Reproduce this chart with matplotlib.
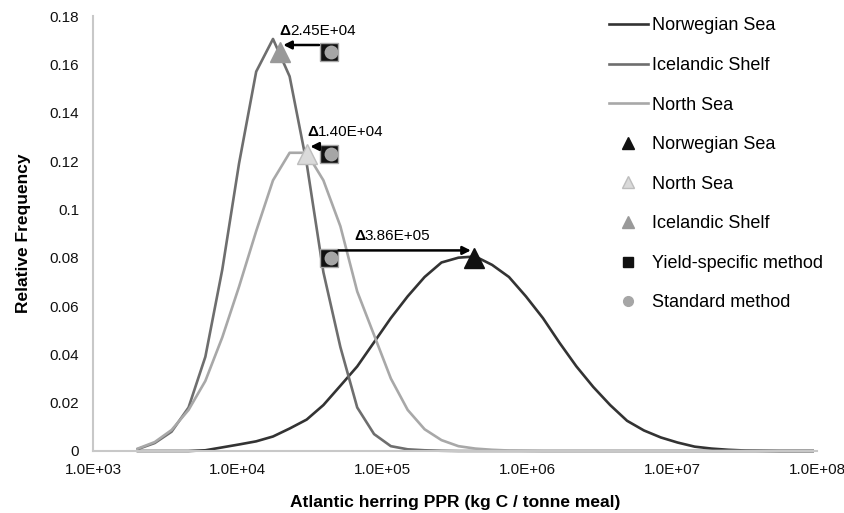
import matplotlib
matplotlib.use('Agg')
import matplotlib.pyplot as plt
from matplotlib.lines import Line2D
from matplotlib.ticker import FixedLocator, FuncFormatter, NullLocator

plt.rcParams['font.family'] = ['Liberation Sans', 'DejaVu Sans']

# Bins de PPR (kg C / tonne meal)
ppr = [2040, 2670, 3490, 4570, 5970, 7810, 10200, 13400, 17500, 22800,
       29900, 39000, 51100, 66800, 87300, 114000, 149000, 195000, 255000, 334000,
       437000, 571000, 746000, 976000, 1280000, 1670000, 2180000, 2850000, 3730000, 4880000,
       6380000, 8350000, 10900000, 14300000, 18700000, 24400000, 31900000, 41700000, 54600000, 71400000,
       93300000]

# Frecuencias relativas por region
norwegian = [0, 0, 0, 0, 0.0003, 0.0015, 0.0027, 0.004, 0.006, 0.0093,
             0.013, 0.019, 0.027, 0.035, 0.045, 0.055, 0.064, 0.072, 0.078, 0.080,
             0.0805, 0.077, 0.072, 0.064, 0.055, 0.0447, 0.035, 0.0265, 0.019, 0.0125,
             0.0085, 0.0056, 0.0035, 0.0018, 0.001, 0.0005, 0.0002, 0.0001, 0, 0,
             0]
icelandic = [0.0008, 0.0033, 0.008, 0.018, 0.039, 0.075, 0.119, 0.157, 0.1705, 0.155,
             0.119, 0.074, 0.043, 0.018, 0.007, 0.002, 0.0007, 0.0003, 0.0001, 0,
             0, 0, 0, 0, 0, 0, 0, 0, 0, 0,
             0, 0, 0, 0, 0, 0, 0, 0, 0, 0,
             0]
north_sea = [0.001, 0.0037, 0.0087, 0.017, 0.029, 0.047, 0.068, 0.091, 0.112, 0.1234,
             0.1234, 0.112, 0.093, 0.066, 0.048, 0.030, 0.017, 0.009, 0.0045, 0.002,
             0.001, 0.0005, 0.0002, 0.0001, 0, 0, 0, 0, 0, 0,
             0, 0, 0, 0, 0, 0, 0, 0, 0, 0,
             0]

# Puntos: metodo especifico por rendimiento vs estandar
regions = ['Norwegian Sea', 'North Sea', 'Icelandic Shelf']
yield_ppr = [430000, 30000, 19500]
point_freq = [0.080, 0.123, 0.165]
tri_colors = ['#111111', '#dadada', '#999999']
tri_edges = ['#111111', '#bdbdbd', '#999999']
square_ppr = 42500
std_ppr = 44000
deltas = ['3.86E+05', '1.40E+04', '2.45E+04']

fig = plt.figure(figsize=(8.45, 5.13), dpi=100)
ax = fig.add_axes([93 / 845, 62 / 513, 724 / 845, 435 / 513])

line_colors = {'Norwegian Sea': '#333333', 'Icelandic Shelf': '#6e6e6e', 'North Sea': '#a8a8a8'}
ax.plot(ppr, norwegian, color=line_colors['Norwegian Sea'], lw=1.9, clip_on=False)
ax.plot(ppr, icelandic, color=line_colors['Icelandic Shelf'], lw=1.9, clip_on=False)
ax.plot(ppr, north_sea, color=line_colors['North Sea'], lw=1.9, clip_on=False)

for i in range(len(regions)):
    ax.plot(yield_ppr[i], point_freq[i], ls='none', marker='^', ms=14,
            mfc=tri_colors[i], mec=tri_edges[i], mew=1, zorder=5)

ax.plot([square_ppr] * 3, point_freq, ls='none', marker='s', ms=13.5,
        mfc='#111111', mec='#a6a6a6', mew=1, zorder=6)
ax.plot([std_ppr] * 3, point_freq, ls='none', marker='o', ms=10,
        mfc='#a6a6a6', mec='#a6a6a6', mew=0, zorder=7)

# Flechas y etiquetas de diferencia
for i in range(len(regions)):
    y_arr = point_freq[i] + 0.003
    ax.annotate('', xy=(yield_ppr[i], y_arr), xytext=(square_ppr, y_arr),
                arrowprops=dict(arrowstyle='-|>', color='black', lw=1.8,
                                mutation_scale=12, shrinkA=7, shrinkB=2.5),
                zorder=8)
    if yield_ppr[i] < std_ppr:
        tx = yield_ppr[i]
    else:
        tx = std_ppr * 1.45
    ty = point_freq[i] + 0.0088
    ax.annotate(u'\u0394', xy=(tx, ty), fontsize=11, fontweight='bold',
                va='center', ha='left', zorder=9)
    ax.annotate(deltas[i], xy=(tx, ty), xytext=(7.6, 0), textcoords='offset points',
                fontsize=11, va='center', ha='left', zorder=9)

ax.set_xscale('log')
ax.set_xlim(1e3, 1e8)
ax.set_ylim(0, 0.18)
ax.xaxis.set_major_locator(FixedLocator([1e3, 1e4, 1e5, 1e6, 1e7, 1e8]))
ax.xaxis.set_minor_locator(NullLocator())
ax.xaxis.set_major_formatter(FuncFormatter(lambda v, p: '%.1E' % v))
ax.yaxis.set_major_locator(FixedLocator([0.02 * k for k in range(10)]))
ax.yaxis.set_major_formatter(FuncFormatter(lambda v, p: '%g' % round(v, 2)))
ax.tick_params(length=0, labelsize=11, labelcolor='#111111')
ax.tick_params(axis='y', pad=10)
ax.tick_params(axis='x', pad=8.5)

for s in ['top', 'right']:
    ax.spines[s].set_visible(False)
for s in ['left', 'bottom']:
    ax.spines[s].set_color('#c8c8c8')
    ax.spines[s].set_linewidth(1.5)

ax.set_xlabel('Atlantic herring PPR (kg C / tonne meal)', fontsize=12.5, fontweight='bold', labelpad=13)
ax.set_ylabel('Relative Frequency', fontsize=12.5, fontweight='bold', labelpad=13.5)

handles = [
    Line2D([], [], color=line_colors['Norwegian Sea'], lw=1.9),
    Line2D([], [], color=line_colors['Icelandic Shelf'], lw=1.9),
    Line2D([], [], color=line_colors['North Sea'], lw=1.9),
    Line2D([], [], ls='none', marker='^', ms=8, mfc=tri_colors[0], mec=tri_edges[0]),
    Line2D([], [], ls='none', marker='^', ms=8, mfc=tri_colors[1], mec=tri_edges[1]),
    Line2D([], [], ls='none', marker='^', ms=8, mfc=tri_colors[2], mec=tri_edges[2]),
    Line2D([], [], ls='none', marker='s', ms=6.5, mfc='#111111', mec='#111111'),
    Line2D([], [], ls='none', marker='o', ms=7, mfc='#a6a6a6', mec='#a6a6a6'),
]
labels = ['Norwegian Sea', 'Icelandic Shelf', 'North Sea', 'Norwegian Sea', 'North Sea',
          'Icelandic Shelf', 'Yield-specific method', 'Standard method']
ax.legend(handles, labels, loc='upper left', bbox_to_anchor=(609 / 845, 1 - 17.5 / 513),
          bbox_transform=fig.transFigure, frameon=False, fontsize=13,
          handlelength=2.15, handletextpad=0.25, labelspacing=1.25,
          borderpad=0, borderaxespad=0)

fig.savefig('out.png', dpi=100)
